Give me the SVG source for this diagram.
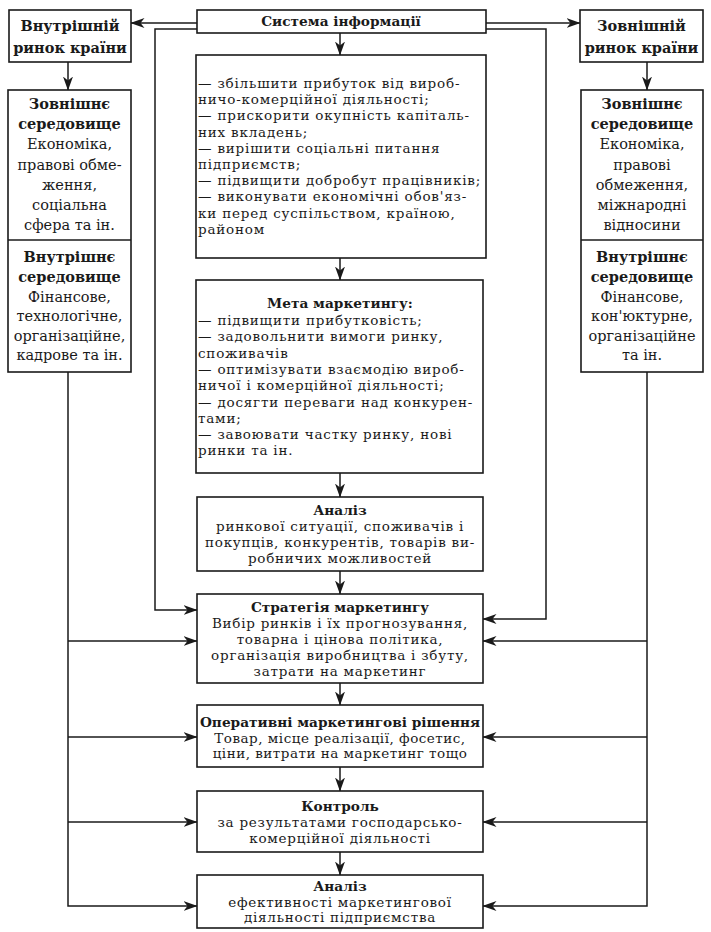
<svg xmlns="http://www.w3.org/2000/svg" width="711" height="932" viewBox="0 0 711 932">
<style>
.box{fill:#fff;stroke:#1a1a1a;stroke-width:1.6}
.ln{fill:none;stroke:#1a1a1a;stroke-width:1.5}
text{font-family:"DejaVu Serif","Liberation Serif",serif;fill:#1a1a1a}
.o{font-size:14.5px;text-anchor:middle}
.ob{font-size:14.5px;text-anchor:middle;font-weight:bold}
.c{font-size:13.5px;letter-spacing:0.8px}
.cm{font-size:13.5px;letter-spacing:0.75px;text-anchor:middle}
.cb{font-size:13.7px;text-anchor:middle;font-weight:bold}
</style>
<defs>
<marker id="ah" viewBox="0 0 14 10" refX="13.5" refY="5" markerWidth="14" markerHeight="10" orient="auto" markerUnits="userSpaceOnUse">
<path d="M0,0 L14,5 L0,10 L4,5 z" fill="#1a1a1a"/>
</marker>
</defs>
<rect width="711" height="932" fill="#fff"/>

<g id="connectors">
<path class="ln" d="M197,23 H131" marker-end="url(#ah)"/>
<path class="ln" d="M197,29 H155 V610 H197" marker-end="url(#ah)"/>
<path class="ln" d="M486,23 H580" marker-end="url(#ah)"/>
<path class="ln" d="M486,29 H546 V619 H483" marker-end="url(#ah)"/>
<path class="ln" d="M340,33 V55" marker-end="url(#ah)"/>
<path class="ln" d="M340,258 V280" marker-end="url(#ah)"/>
<path class="ln" d="M340,473 V497" marker-end="url(#ah)"/>
<path class="ln" d="M340,571 V594" marker-end="url(#ah)"/>
<path class="ln" d="M340,683 V705" marker-end="url(#ah)"/>
<path class="ln" d="M340,767 V791" marker-end="url(#ah)"/>
<path class="ln" d="M340,852 V875" marker-end="url(#ah)"/>
<path class="ln" d="M68,62 V90" marker-end="url(#ah)"/>
<path class="ln" d="M647,62 V90" marker-end="url(#ah)"/>
<path class="ln" d="M68,372 V906 H197" marker-end="url(#ah)"/>
<path class="ln" d="M68,641 H197" marker-end="url(#ah)"/>
<path class="ln" d="M68,737 H197" marker-end="url(#ah)"/>
<path class="ln" d="M68,822 H197" marker-end="url(#ah)"/>
<path class="ln" d="M647,372 V906 H483" marker-end="url(#ah)"/>
<path class="ln" d="M647,641 H483" marker-end="url(#ah)"/>
<path class="ln" d="M647,737 H483" marker-end="url(#ah)"/>
<path class="ln" d="M647,822 H483" marker-end="url(#ah)"/>
</g>

<g id="system">
<rect class="box" x="197" y="10" width="289" height="23"/>
<text class="cb" x="341" y="26" font-size="14.4px">Система інформації</text>
</g>

<g id="internal-market">
<rect class="box" x="9" y="10" width="122" height="52"/>
<text class="ob" x="70" y="31">Внутрішній</text>
<text class="ob" x="70" y="53">ринок країни</text>
</g>

<g id="external-market">
<rect class="box" x="580" y="10" width="123" height="52"/>
<text class="ob" x="641.5" y="31">Зовнішній</text>
<text class="ob" x="641.5" y="53">ринок країни</text>
</g>

<g id="left-env">
<rect class="box" x="8" y="90" width="123" height="282"/>
<line class="ln" x1="8" y1="240" x2="131" y2="240"/>
<text class="ob" x="69.5" y="109">Зовнішнє</text>
<text class="ob" x="69.5" y="129">середовище</text>
<text class="o" x="69.5" y="149">Економіка,</text>
<text class="o" x="69.5" y="169.5">правові обме-</text>
<text class="o" x="69.5" y="189.5">ження,</text>
<text class="o" x="69.5" y="210">соціальна</text>
<text class="o" x="69.5" y="230">сфера та ін.</text>
<text class="ob" x="69.5" y="262">Внутрішнє</text>
<text class="ob" x="69.5" y="282">середовище</text>
<text class="o" x="69.5" y="301.5">Фінансове,</text>
<text class="o" x="69.5" y="321">технологічне,</text>
<text class="o" x="69.5" y="340.5">організаційне,</text>
<text class="o" x="69.5" y="360">кадрове та ін.</text>
</g>

<g id="right-env">
<rect class="box" x="581" y="90" width="122" height="282"/>
<line class="ln" x1="581" y1="240" x2="703" y2="240"/>
<text class="ob" x="642" y="109">Зовнішнє</text>
<text class="ob" x="642" y="129">середовище</text>
<text class="o" x="642" y="149">Економіка,</text>
<text class="o" x="642" y="169.5">правові</text>
<text class="o" x="642" y="189.5">обмеження,</text>
<text class="o" x="642" y="210">міжнародні</text>
<text class="o" x="642" y="230">відносини</text>
<text class="ob" x="642" y="262">Внутрішнє</text>
<text class="ob" x="642" y="282">середовище</text>
<text class="o" x="642" y="301.5">Фінансове,</text>
<text class="o" x="642" y="321">кон'юктурне,</text>
<text class="o" x="642" y="340.5">організаційне</text>
<text class="o" x="642" y="360">та ін.</text>
</g>

<g id="goals">
<rect class="box" x="196" y="55" width="290" height="203"/>
<text class="c" x="198" y="88">— збільшити прибуток від вироб-</text>
<text class="c" x="198" y="104.2">ничо-комерційної діяльності;</text>
<text class="c" x="198" y="120.4">— прискорити окупність капіталь-</text>
<text class="c" x="198" y="136.6">них вкладень;</text>
<text class="c" x="198" y="152.8">— вирішити соціальні питання</text>
<text class="c" x="198" y="169">підприємств;</text>
<text class="c" x="198" y="185.2">— підвищити добробут працівників;</text>
<text class="c" x="198" y="201.4">— виконувати економічні обов'яз-</text>
<text class="c" x="198" y="217.6">ки перед суспільством, країною,</text>
<text class="c" x="198" y="233.8">районом</text>
</g>

<g id="marketing-goal">
<rect class="box" x="196" y="280" width="287" height="193"/>
<text class="cb" x="340" y="308">Мета маркетингу:</text>
<text class="c" x="198" y="324.5">— підвищити прибутковість;</text>
<text class="c" x="198" y="341">— задовольнити вимоги ринку,</text>
<text class="c" x="198" y="357.5">споживачів</text>
<text class="c" x="198" y="374">— оптимізувати взаємодію вироб-</text>
<text class="c" x="198" y="390">ничої і комерційної діяльності;</text>
<text class="c" x="198" y="406.5">— досягти переваги над конкурен-</text>
<text class="c" x="198" y="422.5">тами;</text>
<text class="c" x="198" y="439">— завоювати частку ринку, нові</text>
<text class="c" x="198" y="455">ринки та ін.</text>
</g>

<g id="analysis1">
<rect class="box" x="197" y="497" width="286" height="74"/>
<text class="cb" x="340" y="515">Аналіз</text>
<text class="cm" x="340" y="531">ринкової ситуації, споживачів і</text>
<text class="cm" x="340" y="547">покупців, конкурентів, товарів ви-</text>
<text class="cm" x="340" y="563">робничих можливостей</text>
</g>

<g id="strategy">
<rect class="box" x="197" y="594" width="286" height="89"/>
<text class="cb" x="340" y="612">Стратегія маркетингу</text>
<text class="cm" x="340" y="628">Вибір ринків і їх прогнозування,</text>
<text class="cm" x="340" y="644">товарна і цінова політика,</text>
<text class="cm" x="340" y="660">організація виробництва і збуту,</text>
<text class="cm" x="340" y="675.5">затрати на маркетинг</text>
</g>

<g id="operative">
<rect class="box" x="197" y="705" width="286" height="62"/>
<text class="cb" x="340" y="727" font-size="13.5px">Оперативні маркетингові рішення</text>
<text class="cm" x="340" y="742.5" style="letter-spacing:0.5px">Товар, місце реалізації, фосетис,</text>
<text class="cm" x="340" y="758" style="letter-spacing:0.5px">ціни, витрати на маркетинг тощо</text>
</g>

<g id="control">
<rect class="box" x="197" y="791" width="286" height="61"/>
<text class="cb" x="340" y="811">Контроль</text>
<text class="cm" x="340" y="827">за результатами господарсько-</text>
<text class="cm" x="340" y="842.5">комерційної діяльності</text>
</g>

<g id="analysis2">
<rect class="box" x="197" y="875" width="286" height="53"/>
<text class="cb" x="340" y="891">Аналіз</text>
<text class="cm" x="340" y="906.5">ефективності маркетингової</text>
<text class="cm" x="340" y="922">діяльності підприємства</text>
</g>
</svg>
